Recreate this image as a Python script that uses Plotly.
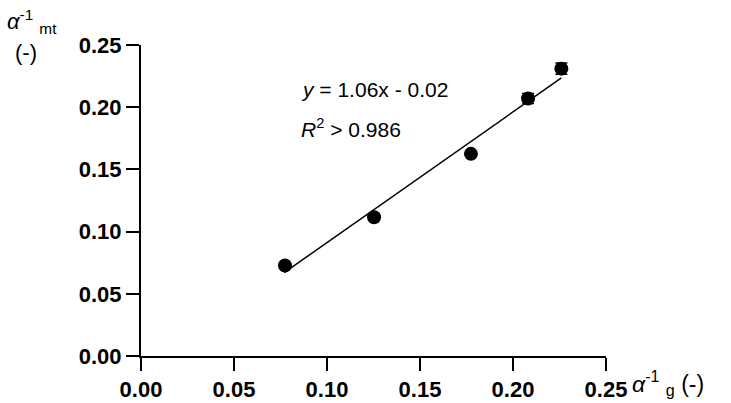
import plotly.graph_objects as go

# data
x_vals = [0.0774, 0.1253, 0.1774, 0.2081, 0.2260]
y_vals = [0.0728, 0.1115, 0.1625, 0.2070, 0.2310]
y_err = [0.0, 0.0, 0.0, 0.0040, 0.0045]
fit_x = [0.0770, 0.2260]
fit_y = [0.0670, 0.2235]
tick_vals = [0.00, 0.05, 0.10, 0.15, 0.20, 0.25]
tick_text = ["0.00", "0.05", "0.10", "0.15", "0.20", "0.25"]

FONT = "Liberation Sans, Arial, sans-serif"

fig = go.Figure()
fig.add_trace(go.Scatter(x=fit_x, y=fit_y, mode="lines",
                         line=dict(color="black", width=1.5), showlegend=False))
fig.add_trace(go.Scatter(x=x_vals, y=y_vals, mode="markers",
                         marker=dict(color="black", size=14),
                         error_y=dict(type="data", array=y_err, color="black",
                                      thickness=1.5, width=6),
                         showlegend=False))

axis_common = dict(
    range=[0, 0.25], tickvals=tick_vals, ticktext=[f"<b>{t}</b>" for t in tick_text],
    showgrid=False, zeroline=False, showline=True, linecolor="black", linewidth=2,
    ticks="outside", ticklen=13, tickwidth=2, tickcolor="black", automargin=False,
    tickfont=dict(family=FONT, size=22, color="black"),
)
fig.update_xaxes(**axis_common)
fig.update_yaxes(**axis_common)

fig.add_annotation(xref="paper", yref="paper", x=-0.293, y=1.075, xanchor="left", yanchor="middle",
                   text="<i>α</i><sup>-1</sup> <sub>mt</sub>", showarrow=False,
                   font=dict(family=FONT, size=22, color="black"))
fig.add_annotation(xref="paper", yref="paper", x=-0.275, y=0.975, xanchor="left", yanchor="middle",
                   text="(-)", showarrow=False,
                   font=dict(family=FONT, size=22, color="black"))
fig.add_annotation(xref="paper", yref="paper", x=1.052, y=-0.087, xanchor="left", yanchor="middle",
                   text="<i>α</i><sup>-1</sup>&nbsp;<sub>g</sub>&nbsp;(-)", showarrow=False,
                   font=dict(family=FONT, size=23, color="black"))
fig.add_annotation(xref="x", yref="y", x=0.0850, y=0.2140, xanchor="left", yanchor="middle",
                   text="<i>y</i> = 1.06x - 0.02", showarrow=False,
                   font=dict(family=FONT, size=21, color="black"))
fig.add_annotation(xref="x", yref="y", x=0.0850, y=0.1830, xanchor="left", yanchor="middle",
                   text="<i>R</i><sup>2</sup> > 0.986", showarrow=False,
                   font=dict(family=FONT, size=21, color="black"))

fig.update_layout(
    width=731, height=403,
    margin=dict(l=141, r=125, t=45, b=47),
    plot_bgcolor="white", paper_bgcolor="white",
)

fig.write_html("out.html")
